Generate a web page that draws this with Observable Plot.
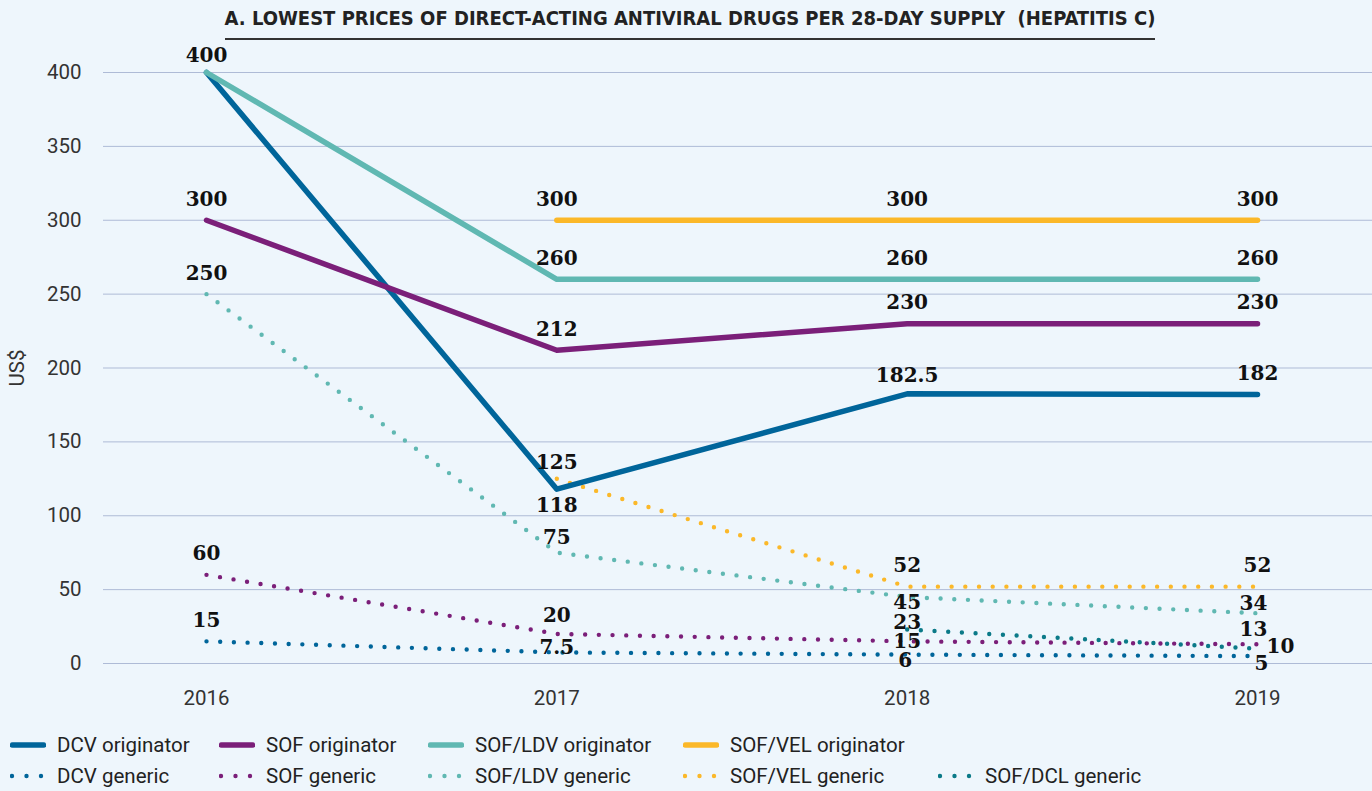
<!DOCTYPE html>
<html>
<head>
<meta charset="utf-8">
<script src="https://cdn.jsdelivr.net/npm/d3@7"></script>
<script src="https://cdn.jsdelivr.net/npm/@observablehq/plot@0.6"></script>
<style>
  html, body { margin: 0; padding: 0; background: #eef6fc; }
  body { width: 1372px; height: 791px; position: relative; overflow: hidden; font-family: Roboto, sans-serif; }
  #title { position: absolute; top: 0; left: 0; width: 1372px; height: 40px; text-align: center; }
  #title span { display: inline-block; margin-top: 8px; margin-left: 8px; padding-bottom: 10px; line-height: 20px; border-bottom: 2.5px solid #333;
    font-family: "Liberation Sans Narrow", "DejaVu Sans Condensed", Roboto, sans-serif; font-weight: bold; font-size: 20px; color: #222; }
  #chart { position: absolute; top: 40px; left: 0; }
  #legend { position: absolute; top: 725px; left: 0; width: 1372px; height: 66px; }
  .li { position: absolute; display: flex; align-items: center; font-size: 20.5px; color: #222; line-height: 22px; }
  .li svg { margin-right: 11px; }
</style>
</head>
<body>
<div id="title"><span>A. LOWEST PRICES OF DIRECT-ACTING ANTIVIRAL DRUGS PER 28-DAY SUPPLY&nbsp;&nbsp;(HEPATITIS C)</span></div>
<div id="chart"></div>
<div id="legend"></div>
<script>
// ---- Data ----
const years = [2016, 2017, 2018, 2019];
const dcvOriginator    = [400, 118, 182.5, 182];
const sofOriginator    = [300, 212, 230, 230];
const sofLdvOriginator = [400, 260, 260, 260];
const sofVelOriginator = [null, 300, 300, 300];
const dcvGeneric       = [15, 7.5, 6, 5];
const sofGeneric       = [60, 20, 15, 13];
const sofLdvGeneric    = [250, 75, 45, 34];
const sofVelGeneric    = [null, 125, 52, 52];
const sofDclGeneric    = [null, null, 23, 10];
const yTicks = [0, 50, 100, 150, 200, 250, 300, 350, 400];

// ---- Series definitions (styles) ----
const series = [
  {name: "DCV generic", values: dcvGeneric, color: "#00659a", dotted: true},
  {name: "SOF generic", values: sofGeneric, color: "#7b1f79", dotted: true},
  {name: "SOF/LDV generic", values: sofLdvGeneric, color: "#60b8b2", dotted: true},
  {name: "SOF/VEL generic", values: sofVelGeneric, color: "#fbb829", dotted: true},
  {name: "SOF/DCL generic", values: sofDclGeneric, color: "#0b7a88", dotted: true},
  {name: "DCV originator", values: dcvOriginator, color: "#00659a", dotted: false},
  {name: "SOF originator", values: sofOriginator, color: "#7b1f79", dotted: false},
  {name: "SOF/LDV originator", values: sofLdvOriginator, color: "#60b8b2", dotted: false},
  {name: "SOF/VEL originator", values: sofVelOriginator, color: "#fbb829", dotted: false}
];

// label offsets (placement only): default above the point
const labelOffset = {
  "DCV originator|2016": [0, -17],
  "SOF/LDV originator|2016": [0, -17],
  "DCV originator|2017": [0, 16],
  "DCV originator|2018": [0, -18],
  "SOF/VEL generic|2017": [0, -16],
  "SOF/LDV generic|2017": [0, -15],
  "SOF generic|2017": [0, -18],
  "DCV generic|2017": [0, -5],
  "SOF/LDV generic|2018": [0, 6],
  "SOF/DCL generic|2018": [0, -7],
  "SOF generic|2018": [0, 0],
  "DCV generic|2018": [-2, 6],
  "SOF/LDV generic|2019": [-4, -10],
  "SOF generic|2019": [-4, -15],
  "SOF/DCL generic|2019": [23, -2],
  "DCV generic|2019": [4, 7]
};

const rows = [];
for (const s of series) {
  years.forEach((yr, i) => {
    if (s.values[i] != null) rows.push({series: s.name, year: yr, value: s.values[i]});
  });
}

const marks = [
  Plot.gridY(yTicks, {stroke: "#aebbd6", strokeOpacity: 1, strokeWidth: 1}),
  Plot.axisY(yTicks, {tickSize: 0, tickPadding: 22, fontSize: 20.5, fill: "#333",
    label: "US$", labelAnchor: "center", labelArrow: "none", labelOffset: 94}),
  Plot.axisX(years, {tickSize: 0, tickPadding: 27, fontSize: 20.5, fill: "#333", tickFormat: d => String(d), label: null})
];

for (const s of series) {
  const data = rows.filter(r => r.series === s.name);
  marks.push(Plot.line(data, {
    x: "year", y: "value", stroke: s.color,
    strokeWidth: s.dotted ? 4.4 : 5.5,
    strokeLinecap: "round", strokeLinejoin: "round",
    strokeDasharray: s.dotted ? "0 13.7" : null
  }));
}

// Data labels (one label per distinct point)
const seen = new Set();
for (const r of rows) {
  const key = r.year + "|" + r.value;
  if (seen.has(key)) continue;
  seen.add(key);
  const off = labelOffset[r.series + "|" + r.year] || [0, -21];
  marks.push(Plot.text([r], {
    x: "year", y: "value", text: d => String(d.value),
    dx: off[0], dy: off[1],
    fontFamily: "DejaVu Serif", fontWeight: "bold", fontSize: 20, fill: "#111"
  }));
}

const xScalePx = (1257 - 206) / 3;
const chart = Plot.plot({
  width: 1372,
  height: 685,
  marginLeft: 103,
  marginRight: 0,
  marginTop: 32,
  marginBottom: 62,
  style: {background: "transparent", fontFamily: "Roboto, sans-serif", fontSize: "20.5px", color: "#333", overflow: "visible"},
  x: {domain: [2016 - (206 - 103) / xScalePx, 2019 + (1372 - 1257) / xScalePx], axis: null},
  y: {domain: [0, 400], axis: null},
  marks
});
document.getElementById("chart").appendChild(chart);

// ---- Legend ----
const legendItems = [
  {name: "DCV originator", color: "#00659a", dotted: false, left: 10, top: 20},
  {name: "SOF originator", color: "#7b1f79", dotted: false, left: 219, top: 20},
  {name: "SOF/LDV originator", color: "#60b8b2", dotted: false, left: 428, top: 20},
  {name: "SOF/VEL originator", color: "#fbb829", dotted: false, left: 683, top: 20},
  {name: "DCV generic", color: "#00659a", dotted: true, left: 10, top: 51},
  {name: "SOF generic", color: "#7b1f79", dotted: true, left: 219, top: 51},
  {name: "SOF/LDV generic", color: "#60b8b2", dotted: true, left: 428, top: 51},
  {name: "SOF/VEL generic", color: "#fbb829", dotted: true, left: 683, top: 51},
  {name: "SOF/DCL generic", color: "#0b7a88", dotted: true, left: 938, top: 51}
];
const legend = document.getElementById("legend");
for (const it of legendItems) {
  const div = document.createElement("div");
  div.className = "li";
  div.style.left = it.left + "px";
  div.style.top = (it.top - 11) + "px";
  const sw = it.dotted
    ? `<svg width="36" height="10"><line x1="2" y1="5" x2="33" y2="5" stroke="${it.color}" stroke-width="4.4" stroke-linecap="round" stroke-dasharray="0 14.5"/></svg>`
    : `<svg width="36" height="10"><line x1="2.5" y1="5" x2="33.5" y2="5" stroke="${it.color}" stroke-width="5.5" stroke-linecap="round"/></svg>`;
  div.innerHTML = sw + `<span>${it.name}</span>`;
  legend.appendChild(div);
}
</script>
</body>
</html>
